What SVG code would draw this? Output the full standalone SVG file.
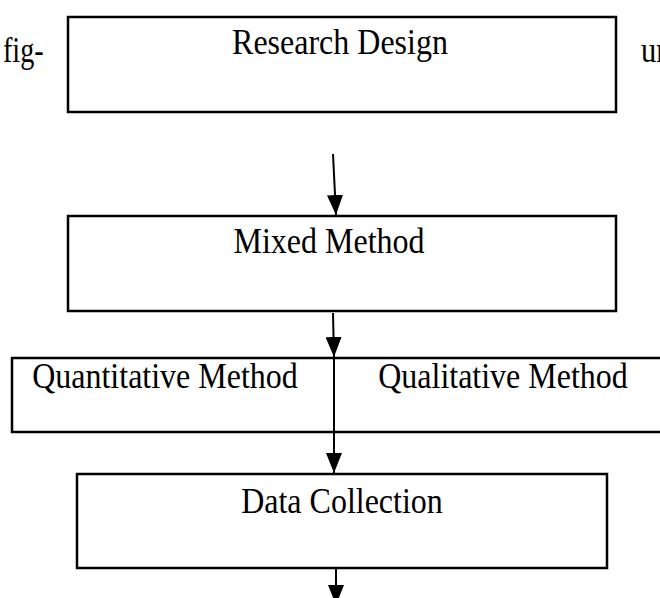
<svg xmlns="http://www.w3.org/2000/svg" width="660" height="598" viewBox="0 0 660 598">
<style>
.box{fill:#fff;stroke:#000;stroke-width:2.5}
.t{font-family:"Liberation Serif","Times New Roman",serif;font-size:32px;fill:#000}
.c{stroke:#000;stroke-width:2;fill:none}
</style>
<defs>
<marker id="ah" markerWidth="20" markerHeight="16" refX="20" refY="8" orient="auto" markerUnits="userSpaceOnUse" viewBox="0 0 20 16"><path d="M0,0 L20,8 L0,16 z" fill="#000"/></marker>
</defs>
<rect width="660" height="598" fill="#fff"/>
<text class="t" transform="translate(3,62) scale(0.88,1.1)">fig-</text>
<text class="t" transform="translate(641,62) scale(0.95,1.1)">ur</text>
<g id="n1"><rect class="box" x="68" y="17" width="548" height="95"/><text class="t" text-anchor="middle" transform="translate(340,54) scale(1,1.15)">Research Design</text></g>
<g id="n2"><rect class="box" x="68" y="216" width="548" height="95"/><text class="t" text-anchor="middle" transform="translate(329,253) scale(1,1.15)">Mixed Method</text></g>
<g id="n3"><rect class="box" x="12" y="358" width="660" height="74"/><line class="c" x1="334" y1="358" x2="334" y2="432"/><text class="t" text-anchor="middle" transform="translate(165,388) scale(1,1.15)">Quantitative Method</text><text class="t" text-anchor="middle" transform="translate(503,388) scale(1,1.15)">Qualitative Method</text></g>
<g id="n4"><rect class="box" x="77" y="474" width="530" height="94"/><text class="t" text-anchor="middle" transform="translate(342,513) scale(1,1.15)">Data Collection</text></g>
<g id="connectors">
<line class="c" x1="333" y1="154" x2="336" y2="215" marker-end="url(#ah)"/>
<line class="c" x1="333" y1="313" x2="334" y2="357" marker-end="url(#ah)"/>
<line class="c" x1="334" y1="432" x2="334" y2="473" marker-end="url(#ah)"/>
<line class="c" x1="336" y1="568" x2="336" y2="605" marker-end="url(#ah)"/>
</g>
</svg>
